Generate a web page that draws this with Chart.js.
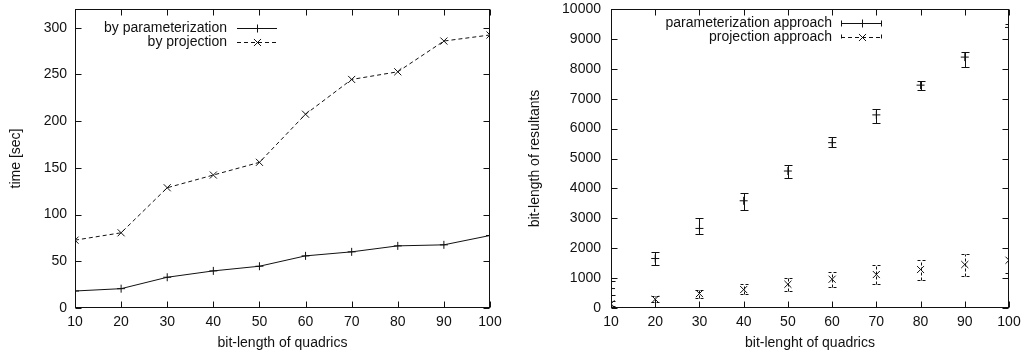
<!DOCTYPE html>
<html><head><meta charset="utf-8">
<script src="https://cdn.jsdelivr.net/npm/chart.js@4.4.1/dist/chart.umd.min.js"></script>
<style>
html,body{margin:0;padding:0;background:#fff;width:1023px;height:354px;overflow:hidden}
#left{position:absolute;left:0;top:0}
#right{position:absolute;left:512px;top:0}
</style></head><body>
<canvas id="left" width="512" height="354"></canvas>
<canvas id="right" width="511" height="354"></canvas>
<script>
// ---- data ----
const bitLengths = [10, 20, 30, 40, 50, 60, 70, 80, 90, 100];
const timeParamLabel = 'by parameterization';
const timeProjLabel = 'by projection';
const timeParam = [18.2, 20.7, 32.9, 39.7, 44.7, 55.8, 60.1, 66.5, 67.6, 77.6];
const timeProj = [72.6, 80.5, 128.7, 142.3, 155.9, 207.4, 244.6, 252.8, 285.7, 292.2];

const resParamLabel = 'parameterization approach';
const resProjLabel = 'projection approach';
const resParam = [650, 1655, 2661, 3586, 4581, 5530, 6458, 7453, 8391, 9383];
const resParamLow = [430, 1431, 2470, 3284, 4357, 5395, 6180, 7296, 8056, 8995];
const resParamHigh = [890, 1867, 2996, 3844, 4772, 5710, 6659, 7607, 8546, 9497];
const resProj = [140, 292, 483, 617, 794, 962, 1119, 1287, 1454, 1598];
const resProjLow = [60, 201, 335, 459, 570, 704, 818, 928, 1072, 1173];
const resProjHigh = [250, 402, 593, 818, 1005, 1206, 1431, 1598, 1800, 1990];

const leftXTitle = 'bit-length of quadrics';
const leftYTitle = 'time [sec]';
const rightXTitle = 'bit-lenght of quadrics';
const rightYTitle = 'bit-length of resultants';

// ---- styling ----
const FAMILY = '"Liberation Sans", Arial, Helvetica, sans-serif';
const FONT = {family: FAMILY, size: 14};
const INK = '#111';
Chart.defaults.font.family = FAMILY;
Chart.defaults.font.size = 14;
Chart.defaults.color = INK;

const pts = (xs, ys) => xs.map((x, i) => ({x, y: ys[i]}));

const framePlugin = {
  id: 'frame',
  beforeDatasetsDraw(chart) {
    const {ctx, chartArea: a, scales} = chart;
    ctx.save();
    ctx.strokeStyle = INK; ctx.lineWidth = 1; ctx.setLineDash([]);
    const L = Math.round(a.left) + 0.5, R = Math.round(a.right) - 0.5;
    const T = Math.round(a.top) + 0.5, B = Math.round(a.bottom) - 0.5;
    ctx.strokeRect(L, T, R - L, B - T);
    const len = 6;
    ctx.beginPath();
    scales.x.ticks.forEach(t => {
      const px = Math.round(scales.x.getPixelForValue(t.value)) + 0.5;
      ctx.moveTo(px, B); ctx.lineTo(px, B - len);
      ctx.moveTo(px, T); ctx.lineTo(px, T + len);
    });
    scales.y.ticks.forEach(t => {
      const py = Math.round(scales.y.getPixelForValue(t.value)) + 0.5;
      ctx.moveTo(L, py); ctx.lineTo(L + len, py);
      ctx.moveTo(R, py); ctx.lineTo(R - len, py);
    });
    ctx.stroke();
    ctx.restore();
  }
};

const errorBarPlugin = {
  id: 'errorBars',
  afterDatasetsDraw(chart) {
    const {ctx, chartArea: a, scales: {x, y}} = chart;
    ctx.save();
    ctx.beginPath(); ctx.rect(a.left, a.top, a.right - a.left, a.bottom - a.top); ctx.clip();
    chart.data.datasets.forEach(ds => {
      if (!ds.errLow) return;
      ctx.strokeStyle = INK; ctx.lineWidth = 1; ctx.setLineDash(ds.errDash || []);
      ds.data.forEach((p, i) => {
        const px = Math.round(x.getPixelForValue(p.x)) + 0.5;
        const yl = Math.round(y.getPixelForValue(ds.errLow[i])) + 0.5;
        const yh = Math.round(y.getPixelForValue(ds.errHigh[i])) + 0.5;
        ctx.beginPath();
        ctx.moveTo(px, yl); ctx.lineTo(px, yh);
        ctx.moveTo(px - 4, yl); ctx.lineTo(px + 4, yl);
        ctx.moveTo(px - 4, yh); ctx.lineTo(px + 4, yh);
        ctx.stroke();
      });
    });
    ctx.restore();
  }
};

const keyPlugin = {
  id: 'gnuKey',
  afterDraw(chart, args, opts) {
    const {ctx} = chart;
    ctx.save();
    ctx.font = '14px ' + FAMILY;
    ctx.textAlign = 'right'; ctx.textBaseline = 'middle';
    chart.data.datasets.forEach((ds, i) => {
      const y = opts.y + i * opts.dy;
      const yy = Math.round(y) + 0.5;
      ctx.fillStyle = INK;
      ctx.fillText(ds.label, opts.textRight, y);
      const x0 = opts.sampleLeft, x1 = opts.sampleLeft + opts.sampleWidth, xm = Math.round((x0 + x1) / 2) + 0.5;
      ctx.strokeStyle = INK; ctx.lineWidth = 1;
      ctx.setLineDash(ds.keyDash || []);
      ctx.beginPath();
      ctx.moveTo(x0, yy); ctx.lineTo(x1, yy);
      if (opts.caps) {
        ctx.moveTo(x0 + 0.5, yy - 3); ctx.lineTo(x0 + 0.5, yy + 3);
        ctx.moveTo(x1 - 0.5, yy - 3); ctx.lineTo(x1 - 0.5, yy + 3);
      }
      ctx.stroke();
      ctx.setLineDash([]);
      Chart.helpers.drawPoint(ctx, {pointStyle: ds.pointStyle, radius: ds.pointRadius, rotation: 0, borderWidth: 1}, xm, yy);
    });
    ctx.restore();
  }
};

function axes(xTitle, yTitle, yMax, yStep, yWidth, yTitlePad, yLabelPad) {
  return {
    x: {
      type: 'linear', min: 10, max: 100,
      afterFit: s => { s.height = 46; s.paddingLeft = 0; s.paddingRight = 0; s.paddingTop = 0; s.paddingBottom = 0; },
      ticks: {stepSize: 10, padding: 6, color: INK, font: FONT, maxRotation: 0, autoSkip: false,
              callback: v => String(v)},
      grid: {display: false, drawTicks: false},
      border: {display: false},
      title: {display: true, text: xTitle, color: INK, font: FONT, padding: {top: 0, bottom: 2}}
    },
    y: {
      type: 'linear', min: 0, max: yMax,
      afterFit: s => { s.width = yWidth; s.paddingTop = 0; s.paddingBottom = 0; s.paddingLeft = 0; s.paddingRight = 0; },
      ticks: {stepSize: yStep, includeBounds: false, padding: yLabelPad, color: INK, font: FONT, autoSkip: false,
              callback: v => String(v)},
      grid: {display: false, drawTicks: false},
      border: {display: false},
      title: {display: true, text: yTitle, color: INK, font: FONT, padding: {top: yTitlePad, bottom: 0}}
    }
  };
}

new Chart(document.getElementById('left'), {
  type: 'line',
  data: {
    datasets: [
      {label: timeParamLabel, data: pts(bitLengths, timeParam), borderColor: INK, borderWidth: 1,
       pointStyle: 'cross', pointRadius: 4, pointBorderWidth: 1, pointBorderColor: INK, tension: 0, fill: false},
      {label: timeProjLabel, data: pts(bitLengths, timeProj), borderColor: INK, borderWidth: 1, borderDash: [4, 3], keyDash: [4, 3],
       pointStyle: 'crossRot', pointRadius: 5, pointBorderWidth: 1, pointBorderColor: INK, tension: 0, fill: false}
    ]
  },
  options: {
    responsive: false, animation: false, devicePixelRatio: 1,
    layout: {padding: {left: 0, right: 22, top: 9, bottom: 0}},
    scales: axes(leftXTitle, leftYTitle, 320, 50, 75, 8, 8),
    plugins: {
      legend: {display: false}, tooltip: {enabled: false},
      gnuKey: {textRight: 227, sampleLeft: 237, sampleWidth: 40, y: 28, dy: 14, caps: false}
    }
  },
  plugins: [framePlugin, keyPlugin]
});

new Chart(document.getElementById('right'), {
  type: 'scatter',
  data: {
    datasets: [
      {label: resParamLabel, data: pts(bitLengths, resParam), errLow: resParamLow, errHigh: resParamHigh, errDash: [],
       showLine: false, pointStyle: 'cross', pointRadius: 4, pointBorderWidth: 1, pointBorderColor: INK, borderColor: INK},
      {label: resProjLabel, data: pts(bitLengths, resProj), errLow: resProjLow, errHigh: resProjHigh, errDash: [3, 2], keyDash: [4, 3],
       showLine: false, pointStyle: 'crossRot', pointRadius: 5, pointBorderWidth: 1, pointBorderColor: INK, borderColor: INK}
    ]
  },
  options: {
    responsive: false, animation: false, devicePixelRatio: 1,
    layout: {padding: {left: 0, right: 14, top: 9, bottom: 0}},
    scales: axes(rightXTitle, rightYTitle, 10000, 1000, 99, 15, 10),
    plugins: {
      legend: {display: false}, tooltip: {enabled: false},
      gnuKey: {textRight: 320, sampleLeft: 329, sampleWidth: 41, y: 23.3, dy: 14, caps: true}
    }
  },
  plugins: [framePlugin, errorBarPlugin, keyPlugin]
});
</script>
</body></html>
